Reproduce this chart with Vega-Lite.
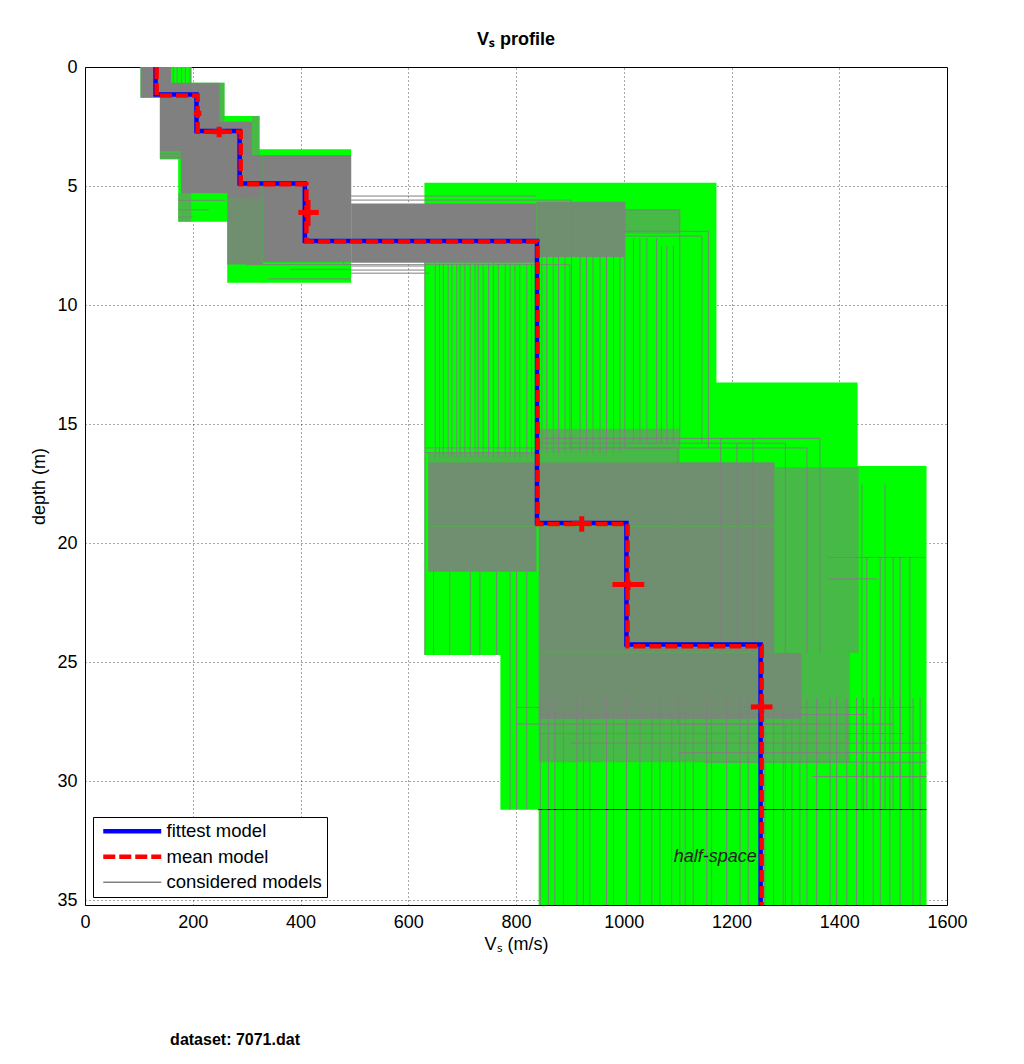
{
  "$schema": "https://vega.github.io/schema/vega-lite/v6.json",
  "width": 862,
  "height": 838,
  "autosize": "none",
  "padding": {"left": 85, "top": 67, "right": 77, "bottom": 159},
  "background": "white",
  "title": {"text": "Vₛ profile", "font": "Liberation Sans", "fontSize": 18, "fontWeight": "bold", "color": "black", "anchor": "middle", "offset": 9},
  "config": {
    "view": {"stroke": "black", "strokeWidth": 1},
    "axis": {"labelFont": "Liberation Sans", "labelFontSize": 18, "labelColor": "black", "titleFont": "Liberation Sans", "titleFontSize": 18, "titleFontWeight": "normal", "titleColor": "black", "grid": true, "gridDash": [1, 3], "gridColor": "#000000", "gridOpacity": 0.7, "domain": false, "ticks": false, "labelPadding": 8, "labelFlush": false},
    "legend": {"orient": "bottom-left", "offset": 8, "symbolType": "M-0.4,0H5.4", "symbolSize": 400, "symbolStrokeWidth": 4.5, "labelFont": "Liberation Sans", "labelFontSize": 18.5, "labelColor": "black", "fillColor": "white", "strokeColor": "black", "padding": 5, "rowPadding": 6.5, "labelOffset": 50, "labelLimit": 400}
  },
  "datasets": {
    "envelope": [
      {"v1": 103, "v2": 198, "d1": 0, "d2": 1.29},
      {"v1": 139, "v2": 259, "d1": 0.66, "d2": 3.88},
      {"v1": 173, "v2": 324, "d1": 2.06, "d2": 6.5},
      {"v1": 264, "v2": 494, "d1": 3.46, "d2": 9.06},
      {"v1": 630, "v2": 1172, "d1": 4.86, "d2": 24.7},
      {"v1": 771, "v2": 1434, "d1": 13.25, "d2": 31.2},
      {"v1": 842, "v2": 1562, "d1": 16.76, "d2": 35.2}
    ],
    "grey_solid": [
      {"v1": 103, "v2": 160, "d1": 0, "d2": 1.29},
      {"v1": 139, "v2": 250, "d1": 0.66, "d2": 3.55},
      {"v1": 178, "v2": 310, "d1": 2.3, "d2": 5.3},
      {"v1": 264, "v2": 330, "d1": 3.7, "d2": 5.5},
      {"v1": 330, "v2": 494, "d1": 3.7, "d2": 8.2},
      {"v1": 494, "v2": 838, "d1": 5.73, "d2": 8.22}
    ],
    "grey_dense": [
      {"v1": 264, "v2": 330, "d1": 5.5, "d2": 8.3},
      {"v1": 838, "v2": 1002, "d1": 5.66, "d2": 7.98},
      {"v1": 637, "v2": 1280, "d1": 16.6, "d2": 19.3},
      {"v1": 637, "v2": 838, "d1": 19.3, "d2": 21.2},
      {"v1": 842, "v2": 1280, "d1": 19.3, "d2": 24.6},
      {"v1": 842, "v2": 1330, "d1": 24.6, "d2": 27.4}
    ],
    "grey_medium": [
      {"v1": 1280, "v2": 1436, "d1": 16.8, "d2": 24.6},
      {"v1": 1330, "v2": 1420, "d1": 24.6, "d2": 27.4},
      {"v1": 842, "v2": 1104, "d1": 15.2, "d2": 16.6},
      {"v1": 637, "v2": 842, "d1": 16.2, "d2": 16.6},
      {"v1": 842, "v2": 1420, "d1": 27.4, "d2": 29.2},
      {"v1": 1002, "v2": 1104, "d1": 6.0, "d2": 7.0},
      {"v1": 173, "v2": 197, "d1": 5.3, "d2": 6.5},
      {"v1": 139, "v2": 178, "d1": 3.55, "d2": 3.88},
      {"v1": 250, "v2": 259, "d1": 0.66, "d2": 3.55},
      {"v1": 310, "v2": 324, "d1": 2.06, "d2": 3.7}
    ],
    "cv": [
      {"v": 164, "d1": 0, "d2": 1.29}, {"v": 171, "d1": 0, "d2": 1.29}, {"v": 179, "d1": 0, "d2": 1.29}, {"v": 186, "d1": 0, "d2": 1.29}, {"v": 195, "d1": 0, "d2": 1.29},
      {"v": 631, "d1": 8.22, "d2": 24.7}, {"v": 650, "d1": 8.25, "d2": 16.4}, {"v": 658, "d1": 8.25, "d2": 16.4}, {"v": 665, "d1": 8.25, "d2": 16.4}, {"v": 674, "d1": 8.25, "d2": 16.4},
      {"v": 681, "d1": 8.25, "d2": 16.4}, {"v": 690, "d1": 8.25, "d2": 16.4}, {"v": 696, "d1": 8.25, "d2": 16.4}, {"v": 705, "d1": 8.25, "d2": 16.4}, {"v": 715, "d1": 8.25, "d2": 16.4},
      {"v": 724, "d1": 8.25, "d2": 16.4}, {"v": 730, "d1": 8.25, "d2": 16.4}, {"v": 739, "d1": 8.25, "d2": 16.4}, {"v": 749, "d1": 8.25, "d2": 16.4}, {"v": 758, "d1": 8.25, "d2": 16.4},
      {"v": 767, "d1": 8.25, "d2": 16.4}, {"v": 780, "d1": 8.25, "d2": 16.4}, {"v": 789, "d1": 8.25, "d2": 16.4}, {"v": 798, "d1": 8.25, "d2": 16.4}, {"v": 807, "d1": 8.25, "d2": 16.4},
      {"v": 820, "d1": 8.25, "d2": 16.4}, {"v": 829, "d1": 8.25, "d2": 16.4},
      {"v": 848, "d1": 7.9, "d2": 16.2}, {"v": 857, "d1": 7.9, "d2": 16.2}, {"v": 869, "d1": 7.9, "d2": 16.2}, {"v": 879, "d1": 7.9, "d2": 16.2}, {"v": 891, "d1": 7.9, "d2": 16.2},
      {"v": 903, "d1": 5.59, "d2": 16.2}, {"v": 919, "d1": 7.9, "d2": 16.2}, {"v": 931, "d1": 7.9, "d2": 16.2}, {"v": 943, "d1": 7.9, "d2": 16.2}, {"v": 956, "d1": 7.9, "d2": 16.2},
      {"v": 968, "d1": 7.9, "d2": 16.2}, {"v": 981, "d1": 7.9, "d2": 16.2}, {"v": 993, "d1": 7.9, "d2": 16.2}, {"v": 1002, "d1": 5.66, "d2": 16.0}, {"v": 1018, "d1": 7.2, "d2": 15.8},
      {"v": 1030, "d1": 7.2, "d2": 15.8}, {"v": 1043, "d1": 7.2, "d2": 15.8}, {"v": 1061, "d1": 7.2, "d2": 15.8}, {"v": 1070, "d1": 7.5, "d2": 15.8}, {"v": 1080, "d1": 7.5, "d2": 15.8},
      {"v": 1092, "d1": 7.5, "d2": 15.8}, {"v": 1104, "d1": 6.0, "d2": 16.0}, {"v": 1145, "d1": 7.1, "d2": 15.8}, {"v": 1157, "d1": 6.9, "d2": 16.0},
      {"v": 1180, "d1": 15.6, "d2": 24.6}, {"v": 1210, "d1": 15.8, "d2": 24.6}, {"v": 1240, "d1": 15.6, "d2": 24.6}, {"v": 1300, "d1": 15.8, "d2": 24.6}, {"v": 1340, "d1": 16.0, "d2": 24.6}, {"v": 1364, "d1": 15.6, "d2": 24.6},
      {"v": 647, "d1": 21.2, "d2": 24.7}, {"v": 677, "d1": 21.2, "d2": 24.7}, {"v": 715, "d1": 21.2, "d2": 24.7}, {"v": 733, "d1": 21.2, "d2": 24.7}, {"v": 764, "d1": 21.2, "d2": 24.7},
      {"v": 789, "d1": 21.2, "d2": 31.2}, {"v": 801, "d1": 21.2, "d2": 31.2}, {"v": 820, "d1": 21.2, "d2": 31.2},
      {"v": 1442, "d1": 17.5, "d2": 31.2}, {"v": 1451, "d1": 20.6, "d2": 31.2}, {"v": 1476, "d1": 20.6, "d2": 31.2}, {"v": 1485, "d1": 17.5, "d2": 31.2}, {"v": 1500, "d1": 20.6, "d2": 31.2},
      {"v": 1513, "d1": 20.6, "d2": 31.2}, {"v": 1531, "d1": 20.6, "d2": 31.2},
      {"v": 845, "d1": 26.5, "d2": 35.2}, {"v": 860, "d1": 26.5, "d2": 35.2}, {"v": 872, "d1": 26.5, "d2": 35.2}, {"v": 888, "d1": 26.5, "d2": 35.2}, {"v": 913, "d1": 26.5, "d2": 35.2},
      {"v": 925, "d1": 26.5, "d2": 35.2}, {"v": 937, "d1": 26.5, "d2": 35.2}, {"v": 968, "d1": 26.5, "d2": 35.2}, {"v": 981, "d1": 26.5, "d2": 35.2}, {"v": 1005, "d1": 26.5, "d2": 35.2},
      {"v": 1030, "d1": 26.5, "d2": 35.2}, {"v": 1052, "d1": 26.5, "d2": 35.2}, {"v": 1067, "d1": 26.5, "d2": 35.2}, {"v": 1089, "d1": 26.5, "d2": 35.2}, {"v": 1104, "d1": 26.5, "d2": 35.2},
      {"v": 1114, "d1": 26.5, "d2": 35.2}, {"v": 1129, "d1": 26.5, "d2": 35.2}, {"v": 1154, "d1": 26.5, "d2": 35.2}, {"v": 1163, "d1": 26.5, "d2": 35.2}, {"v": 1191, "d1": 26.5, "d2": 35.2},
      {"v": 1216, "d1": 26.5, "d2": 35.2}, {"v": 1231, "d1": 26.5, "d2": 35.2}, {"v": 1262, "d1": 26.5, "d2": 35.2}, {"v": 1278, "d1": 26.5, "d2": 35.2}, {"v": 1296, "d1": 26.5, "d2": 35.2},
      {"v": 1312, "d1": 26.5, "d2": 35.2}, {"v": 1327, "d1": 26.5, "d2": 35.2}, {"v": 1340, "d1": 26.5, "d2": 35.2}, {"v": 1358, "d1": 26.5, "d2": 35.2}, {"v": 1383, "d1": 26.5, "d2": 35.2},
      {"v": 1395, "d1": 26.5, "d2": 35.2}, {"v": 1414, "d1": 26.5, "d2": 35.2}, {"v": 1432, "d1": 26.5, "d2": 35.2}, {"v": 1445, "d1": 26.5, "d2": 35.2}, {"v": 1463, "d1": 26.5, "d2": 35.2},
      {"v": 1476, "d1": 26.5, "d2": 35.2}, {"v": 1494, "d1": 26.5, "d2": 35.2}, {"v": 1513, "d1": 26.5, "d2": 35.2}, {"v": 1537, "d1": 26.5, "d2": 35.2}, {"v": 1550, "d1": 26.5, "d2": 35.2}
    ],
    "ch": [
      {"d": 5.42, "v1": 494, "v2": 838}, {"d": 5.59, "v1": 494, "v2": 903}, {"d": 8.36, "v1": 494, "v2": 631}, {"d": 8.53, "v1": 494, "v2": 631}, {"d": 8.66, "v1": 494, "v2": 640},
      {"d": 8.3, "v1": 300, "v2": 494}, {"d": 8.5, "v1": 380, "v2": 494}, {"d": 8.9, "v1": 340, "v2": 494},
      {"d": 6.0, "v1": 1002, "v2": 1104}, {"d": 6.9, "v1": 1002, "v2": 1157}, {"d": 7.1, "v1": 1002, "v2": 1145},
      {"d": 15.6, "v1": 849, "v2": 1364}, {"d": 15.8, "v1": 842, "v2": 1300}, {"d": 16.0, "v1": 631, "v2": 1340}, {"d": 16.2, "v1": 631, "v2": 838},
      {"d": 20.6, "v1": 1380, "v2": 1560}, {"d": 21.5, "v1": 1380, "v2": 1470},
      {"d": 26.9, "v1": 800, "v2": 1540}, {"d": 27.2, "v1": 842, "v2": 1450}, {"d": 27.6, "v1": 800, "v2": 1500}, {"d": 28.0, "v1": 842, "v2": 1520},
      {"d": 28.4, "v1": 900, "v2": 1560}, {"d": 28.8, "v1": 1100, "v2": 1560}, {"d": 29.2, "v1": 1150, "v2": 1560}, {"d": 29.8, "v1": 1350, "v2": 1562},
      {"d": 3.65, "v1": 139, "v2": 200}, {"d": 3.78, "v1": 139, "v2": 180},
      {"d": 5.6, "v1": 173, "v2": 260}, {"d": 6.0, "v1": 173, "v2": 230}, {"d": 6.3, "v1": 173, "v2": 200}
    ],
    "considered": [
      {"model": "considered models", "i": 1, "vs": 150, "depth": 0}, {"model": "considered models", "i": 2, "vs": 150, "depth": 1.0},
      {"model": "considered models", "i": 3, "vs": 220, "depth": 1.0}, {"model": "considered models", "i": 4, "vs": 220, "depth": 2.9},
      {"model": "considered models", "i": 5, "vs": 300, "depth": 2.9}, {"model": "considered models", "i": 6, "vs": 300, "depth": 5.6},
      {"model": "considered models", "i": 7, "vs": 480, "depth": 5.6}, {"model": "considered models", "i": 8, "vs": 480, "depth": 8.3},
      {"model": "considered models", "i": 9, "vs": 900, "depth": 8.3}, {"model": "considered models", "i": 10, "vs": 900, "depth": 16.0},
      {"model": "considered models", "i": 11, "vs": 1100, "depth": 16.0}, {"model": "considered models", "i": 12, "vs": 1100, "depth": 27.6},
      {"model": "considered models", "i": 13, "vs": 1300, "depth": 27.6}, {"model": "considered models", "i": 14, "vs": 1300, "depth": 35.2}
    ],
    "profiles": [
      {"model": "fittest model", "i": 1, "vs": 131, "depth": 0}, {"model": "fittest model", "i": 2, "vs": 131, "depth": 1.15},
      {"model": "fittest model", "i": 3, "vs": 207, "depth": 1.15}, {"model": "fittest model", "i": 4, "vs": 207, "depth": 2.69},
      {"model": "fittest model", "i": 5, "vs": 287, "depth": 2.69}, {"model": "fittest model", "i": 6, "vs": 287, "depth": 4.89},
      {"model": "fittest model", "i": 7, "vs": 408, "depth": 4.89}, {"model": "fittest model", "i": 8, "vs": 408, "depth": 7.31},
      {"model": "fittest model", "i": 9, "vs": 839, "depth": 7.31}, {"model": "fittest model", "i": 10, "vs": 839, "depth": 19.15},
      {"model": "fittest model", "i": 11, "vs": 1005, "depth": 19.15}, {"model": "fittest model", "i": 12, "vs": 1005, "depth": 24.26},
      {"model": "fittest model", "i": 13, "vs": 1254, "depth": 24.26}, {"model": "fittest model", "i": 14, "vs": 1254, "depth": 35.2},
      {"model": "mean model", "i": 1, "vs": 133, "depth": 0}, {"model": "mean model", "i": 2, "vs": 133, "depth": 1.2},
      {"model": "mean model", "i": 3, "vs": 209, "depth": 1.2}, {"model": "mean model", "i": 4, "vs": 209, "depth": 2.72},
      {"model": "mean model", "i": 5, "vs": 289, "depth": 2.72}, {"model": "mean model", "i": 6, "vs": 289, "depth": 4.93},
      {"model": "mean model", "i": 7, "vs": 411, "depth": 4.93}, {"model": "mean model", "i": 8, "vs": 411, "depth": 7.33},
      {"model": "mean model", "i": 9, "vs": 840, "depth": 7.33}, {"model": "mean model", "i": 10, "vs": 840, "depth": 19.2},
      {"model": "mean model", "i": 11, "vs": 1007, "depth": 19.2}, {"model": "mean model", "i": 12, "vs": 1007, "depth": 24.33},
      {"model": "mean model", "i": 13, "vs": 1256, "depth": 24.33}, {"model": "mean model", "i": 14, "vs": 1256, "depth": 35.2}
    ],
    "err_h": [
      {"d": 1.95, "v1": 202, "v2": 216}, {"d": 2.72, "v1": 238, "v2": 260}, {"d": 6.11, "v1": 396, "v2": 434},
      {"d": 19.17, "v1": 904, "v2": 940}, {"d": 21.74, "v1": 979, "v2": 1038}, {"d": 26.88, "v1": 1236, "v2": 1276}
    ],
    "err_v": [
      {"v": 209, "d1": 1.8, "d2": 2.1}, {"v": 249, "d1": 2.51, "d2": 2.95}, {"v": 414, "d1": 5.59, "d2": 6.67},
      {"v": 922, "d1": 18.87, "d2": 19.52}, {"v": 1008, "d1": 21.55, "d2": 21.97}, {"v": 1256, "d1": 26.67, "d2": 27.15}
    ],
    "halfspace": [{"d": 31.19, "v1": 841, "v2": 1562, "label": "half-space", "lv": 1247, "ld": 33.17}],
    "caption": [{"v": 158, "d": 40.87, "text": "dataset: 7071.dat"}]
  },
  "layer": [
    {
      "data": {"name": "envelope"},
      "mark": {"type": "rect", "color": "#00ff00"},
      "encoding": {
        "x": {"field": "v1", "type": "quantitative", "title": "Vₛ (m/s)", "scale": {"domain": [0, 1600], "nice": false, "zero": false}, "axis": {"values": [0, 200, 400, 600, 800, 1000, 1200, 1400, 1600], "format": "d", "titlePadding": 4}},
        "x2": {"field": "v2"},
        "y": {"field": "d1", "type": "quantitative", "title": "depth (m)", "scale": {"domain": [0, 35.2], "nice": false, "zero": false, "reverse": true}, "axis": {"values": [0, 5, 10, 15, 20, 25, 30, 35], "format": "d", "titlePadding": 8}},
        "y2": {"field": "d2"}
      }
    },
    {
      "data": {"name": "grey_solid"},
      "mark": {"type": "rect", "color": "#808080"},
      "encoding": {
        "x": {"field": "v1", "type": "quantitative", "title": "Vₛ (m/s)"}, "x2": {"field": "v2"},
        "y": {"field": "d1", "type": "quantitative", "title": "depth (m)"}, "y2": {"field": "d2"}
      }
    },
    {
      "data": {"name": "grey_dense"},
      "mark": {"type": "rect", "color": "#808080", "opacity": 0.88},
      "encoding": {
        "x": {"field": "v1", "type": "quantitative", "title": "Vₛ (m/s)"}, "x2": {"field": "v2"},
        "y": {"field": "d1", "type": "quantitative", "title": "depth (m)"}, "y2": {"field": "d2"}
      }
    },
    {
      "data": {"name": "grey_medium"},
      "mark": {"type": "rect", "color": "#808080", "opacity": 0.55},
      "encoding": {
        "x": {"field": "v1", "type": "quantitative", "title": "Vₛ (m/s)"}, "x2": {"field": "v2"},
        "y": {"field": "d1", "type": "quantitative", "title": "depth (m)"}, "y2": {"field": "d2"}
      }
    },
    {
      "data": {"name": "cv"},
      "mark": {"type": "rule", "color": "#808080", "strokeWidth": 1},
      "encoding": {
        "x": {"field": "v", "type": "quantitative", "title": "Vₛ (m/s)"},
        "y": {"field": "d1", "type": "quantitative", "title": "depth (m)"}, "y2": {"field": "d2"}
      }
    },
    {
      "data": {"name": "ch"},
      "mark": {"type": "rule", "color": "#808080", "strokeWidth": 1},
      "encoding": {
        "x": {"field": "v1", "type": "quantitative", "title": "Vₛ (m/s)"}, "x2": {"field": "v2"},
        "y": {"field": "d", "type": "quantitative", "title": "depth (m)"}
      }
    },
    {
      "data": {"name": "halfspace"},
      "mark": {"type": "rule", "color": "#1a1a1a", "strokeWidth": 1},
      "encoding": {
        "x": {"field": "v1", "type": "quantitative", "title": "Vₛ (m/s)"}, "x2": {"field": "v2"},
        "y": {"field": "d", "type": "quantitative", "title": "depth (m)"}
      }
    },
    {
      "data": {"name": "considered"},
      "mark": {"type": "line", "strokeWidth": 1},
      "encoding": {
        "x": {"field": "vs", "type": "quantitative", "title": "Vₛ (m/s)"},
        "y": {"field": "depth", "type": "quantitative", "title": "depth (m)"},
        "order": {"field": "i", "type": "quantitative"},
        "color": {"field": "model", "type": "nominal", "scale": {"domain": ["fittest model", "mean model", "considered models"], "range": ["#0000ff", "#ff0000", "#808080"]}, "legend": {"title": null, "encode": {"symbols": {"update": {"strokeWidth": {"signal": "datum.value === 'considered models' ? 1.3 : 4.5"}}}}}},
        "strokeDash": {"field": "model", "type": "nominal", "scale": {"domain": ["fittest model", "mean model", "considered models"], "range": [[1, 0], [12, 4], [1, 0]]}, "legend": {"title": null, "encode": {"symbols": {"update": {"strokeWidth": {"signal": "datum.value === 'considered models' ? 1.3 : 4.5"}}}}}}
      }
    },
    {
      "data": {"name": "profiles"},
      "mark": {"type": "line", "strokeWidth": 4.5},
      "encoding": {
        "x": {"field": "vs", "type": "quantitative", "title": "Vₛ (m/s)"},
        "y": {"field": "depth", "type": "quantitative", "title": "depth (m)"},
        "order": {"field": "i", "type": "quantitative"},
        "color": {"field": "model", "type": "nominal", "legend": {"title": null, "encode": {"symbols": {"update": {"strokeWidth": {"signal": "datum.value === 'considered models' ? 1.3 : 4.5"}}}}}},
        "strokeDash": {"field": "model", "type": "nominal", "legend": {"title": null, "encode": {"symbols": {"update": {"strokeWidth": {"signal": "datum.value === 'considered models' ? 1.3 : 4.5"}}}}}}
      }
    },
    {
      "data": {"name": "err_h"},
      "mark": {"type": "rule", "color": "#ff0000", "strokeWidth": 5},
      "encoding": {
        "x": {"field": "v1", "type": "quantitative", "title": "Vₛ (m/s)"}, "x2": {"field": "v2"},
        "y": {"field": "d", "type": "quantitative", "title": "depth (m)"}
      }
    },
    {
      "data": {"name": "err_v"},
      "mark": {"type": "rule", "color": "#ff0000", "strokeWidth": 5},
      "encoding": {
        "x": {"field": "v", "type": "quantitative", "title": "Vₛ (m/s)"},
        "y": {"field": "d1", "type": "quantitative", "title": "depth (m)"}, "y2": {"field": "d2"}
      }
    },
    {
      "data": {"name": "halfspace"},
      "mark": {"type": "text", "align": "right", "baseline": "middle", "font": "Liberation Sans", "fontSize": 18, "fontStyle": "italic", "color": "#222222"},
      "encoding": {
        "x": {"field": "lv", "type": "quantitative", "title": "Vₛ (m/s)"},
        "y": {"field": "ld", "type": "quantitative", "title": "depth (m)"},
        "text": {"field": "label"}
      }
    },
    {
      "data": {"name": "caption"},
      "mark": {"type": "text", "align": "left", "baseline": "middle", "font": "Liberation Sans", "fontSize": 16, "fontWeight": "bold", "color": "black"},
      "encoding": {
        "x": {"field": "v", "type": "quantitative", "title": "Vₛ (m/s)"},
        "y": {"field": "d", "type": "quantitative", "title": "depth (m)"},
        "text": {"field": "text"}
      }
    }
  ]
}
